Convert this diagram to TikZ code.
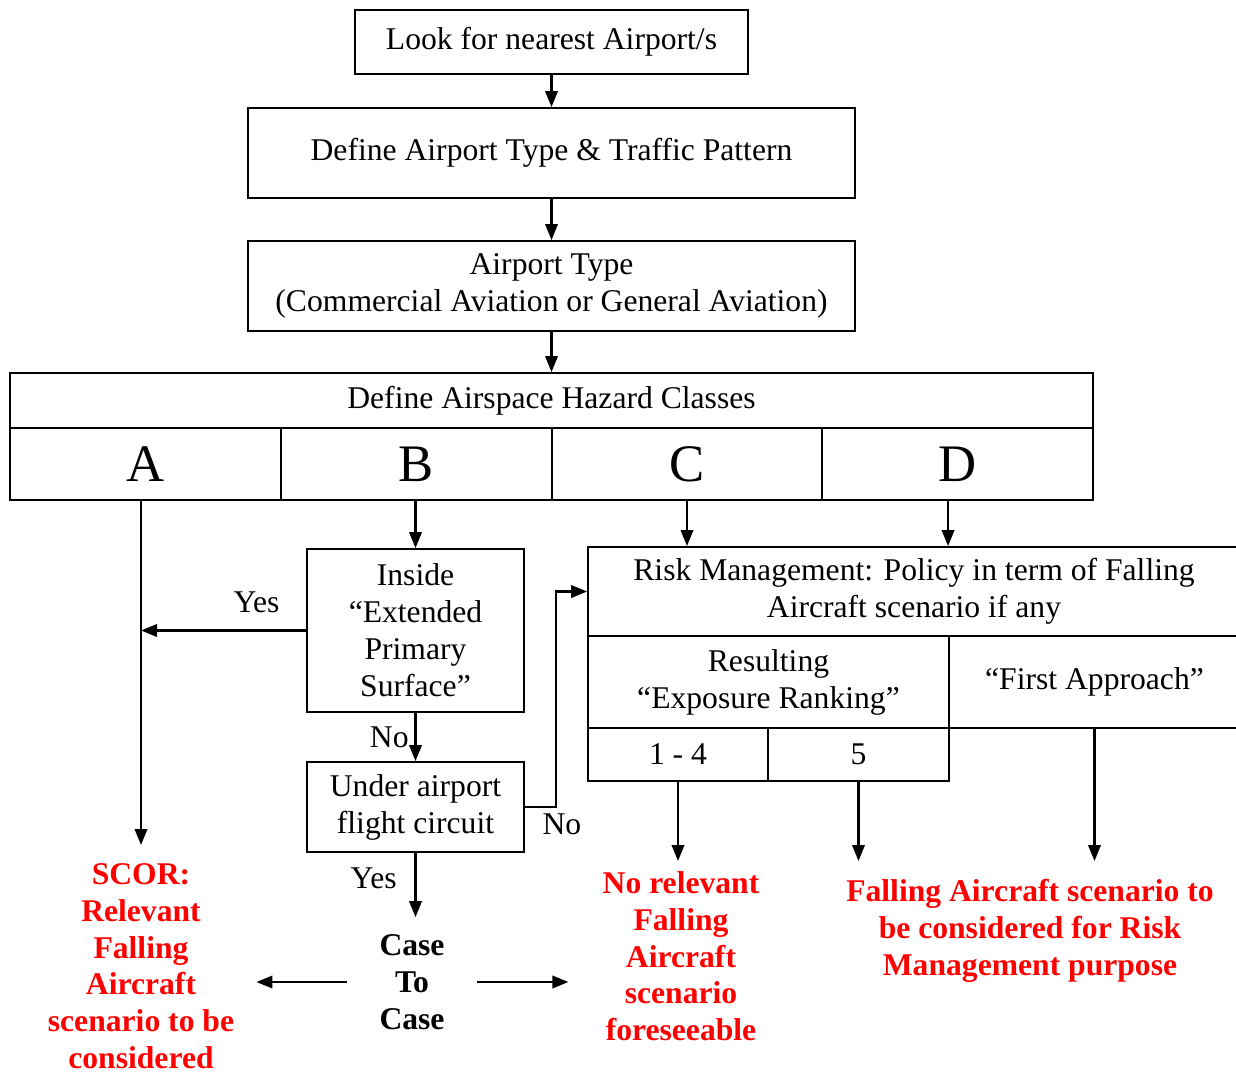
\documentclass[tikz,border=0pt]{standalone}
\usepackage{fontspec}
\setmainfont{Liberation Serif}
\definecolor{alertred}{RGB}{255, 0, 0}
\usetikzlibrary{arrows.meta, positioning, calc}
\tikzset{
  box/.style={draw, line width=1.1pt, align=center, inner sep=0pt, font=\fontsize{18}{21}\selectfont},
  classcell/.style={box, minimum width=5.42cm, minimum height=1.44cm, font=\fontsize{30}{34}\selectfont},
  flow/.style={line width=1.2pt, -{Triangle[length=0.32cm, width=0.25cm]}},
  redtxt/.style={align=center, text=alertred, font=\bfseries\fontsize{18}{21}\selectfont},
  lbl/.style={font=\fontsize{18}{21}\selectfont},
}

\begin{document}
\begin{tikzpicture}[x=0.02cm, y=-0.02cm]
  \useasboundingbox (0,0) rectangle (1236,1074);
  \clip (0,0) rectangle (1236,1074);

  \node[box, minimum width=7.86cm, minimum height=1.28cm] (look) at (551.5,42) {Look for nearest Airport/s};
  \node[box, minimum width=12.14cm, minimum height=1.8cm] (deftype) at (551.5,153) {Define Airport Type \& Traffic Pattern};
  \node[box, minimum width=12.14cm, minimum height=1.8cm] (airtype) at (551.5,286) {Airport Type\\(Commercial Aviation or General Aviation)};
  \node[box, minimum width=21.66cm, minimum height=1.1cm] (hazard) at (551.5,400.5) {Define Airspace Hazard Classes};
  \node[classcell] (classA) at (145.5,464) {A};
  \node[classcell] (classB) at (416.5,464) {B};
  \node[classcell] (classC) at (687,464) {C};
  \node[classcell] (classD) at (957.5,464) {D};

  \node[box, minimum width=4.34cm, minimum height=3.26cm] (inside) at (415.5,630.5) {Inside\\“Extended\\Primary\\Surface”};
  \node[box, minimum width=4.34cm, minimum height=1.8cm] (under) at (415.5,807) {Under airport\\flight circuit};

  \node[box, minimum width=13.04cm, minimum height=1.78cm] (risk) at (914,591.5) {Risk Management: Policy in term of Falling\\Aircraft scenario if any};
  \node[box, minimum width=7.22cm, minimum height=1.84cm] (resulting) at (768.5,682) {Resulting\\“Exposure Ranking”};
  \node[box, minimum width=5.82cm, minimum height=1.84cm] (first) at (1094.5,682) {“First Approach”};
  \node[box, minimum width=3.6cm, minimum height=1.06cm] (rank14) at (678,754.5) {1 - 4};
  \node[box, minimum width=3.62cm, minimum height=1.06cm] (rank5) at (858.5,754.5) {5};

  \node[redtxt, anchor=north, inner xsep=0.44cm, inner ysep=0.36cm] (scor) at (141,845) {SCOR:\\Relevant\\Falling\\Aircraft\\scenario to be\\considered};
  \node[redtxt, anchor=north, inner xsep=0.68cm, inner ysep=0.2cm] (noRel) at (681,861) {No relevant\\Falling\\Aircraft\\scenario\\foreseeable};
  \node[redtxt, anchor=north, inner ysep=0.36cm] (falling) at (1030,861) {Falling Aircraft scenario to\\be considered for Risk\\Management purpose};
  \node[align=center, font=\bfseries\fontsize{18}{21}\selectfont, minimum width=2.6cm, inner xsep=0pt, inner ysep=0.34cm] (case) at (412,982) {Case\\To\\Case};

  \draw[flow] (look.south) -- (deftype.north);
  \draw[flow] (deftype.south) -- (airtype.north);
  \draw[flow] (airtype.south) -- (hazard.north);
  \draw[flow] (classA.south -| scor.north) -- (scor.north);
  \draw[flow] (inside.north |- classB.south) -- (inside.north);
  \draw[flow] (inside.west) -- node[lbl, above=0.22cm, pos=0.3] (yesA) {Yes} (inside.west -| scor.north);
  \draw[flow] (inside.south) -- node[lbl, left] (noA) {No} (under.north);
  \draw[flow] (under.east) -- ++(31,0) node[lbl, below, xshift=0.12cm] (noB) {No} |- (risk.west);
  \draw[flow] (under.south) -- node[lbl, left, pos=0.4, xshift=-0.24cm] (yesB) {Yes} (under.south |- case.north);
  \draw[flow] (case.west) -- (case.west -| scor.east);
  \draw[flow] (case.east) -- (case.east -| noRel.west);
  \draw[flow] (classC.south) -- (classC.south |- risk.north);
  \draw[flow] (classD.south -| first.west) -- (first.west |- risk.north);
  \draw[flow] (rank14.south) -- (rank14.south |- noRel.north);
  \draw[flow] (rank5.south) -- (rank5.south |- falling.north);
  \draw[flow] (first.south) -- (first.south |- falling.north);
\end{tikzpicture}
\end{document}
